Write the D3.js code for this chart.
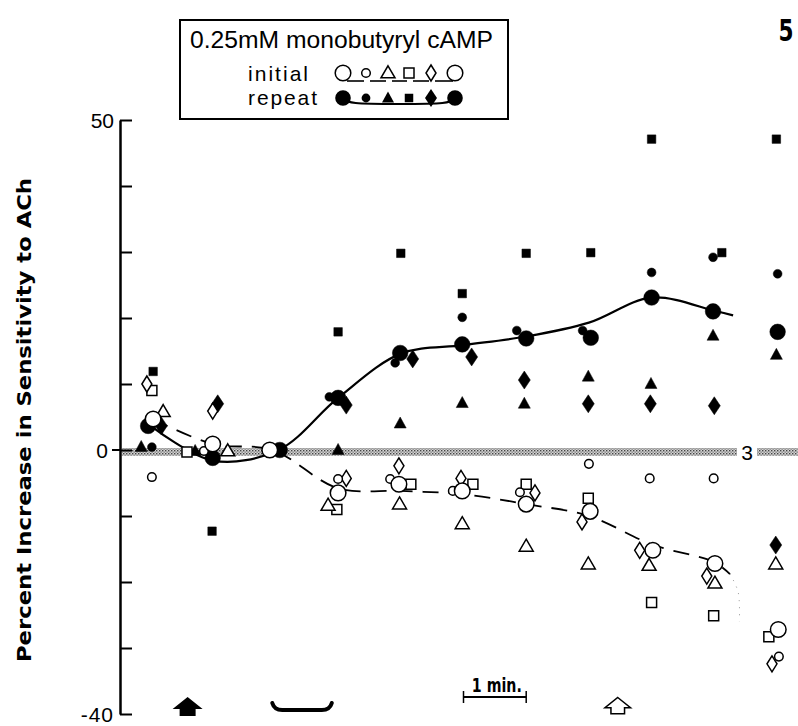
<!DOCTYPE html>
<html>
<head>
<meta charset="utf-8">
<script src="https://cdn.jsdelivr.net/npm/d3@7"></script>
<style>
  body { margin: 0; background: #fff; }
  svg { display: block; }
</style>
</head>
<body>
<svg width="798" height="726"></svg>
<script>
// time in minutes (one column per minute), value in percent
const initialMean = [[0.05,4.7],[1.0,0.9],[1.91,0],[3.0,-6.5],[3.97,-5.2],[4.98,-6.2],[6.0,-8.2],[7.02,-9.3],[8.02,-15.2],[9.01,-17.2],[10.02,-27.2]];
const initialSmallCircle = [[0.03,-4.1],[0.86,-0.15],[3.0,-4.4],[3.83,-4.4],[4.83,-6.2],[5.9,-6.4],[7.0,-2.1],[7.97,-4.3],[8.99,-4.3],[10.03,-31.3]];
const initialTriangle = [[0.21,5.8],[1.24,-0.15],[2.84,-8.4],[3.98,-8.2],[4.98,-11.2],[6.0,-14.6],[6.99,-17.3],[7.96,-17.5],[9.01,-20.2],[9.98,-17.3]];
const initialSquare = [[0.03,9.0],[0.59,-0.3],[2.98,-9.0],[4.16,-5.2],[5.15,-5.2],[6.0,-5.2],[6.99,-7.3],[8.0,-23.1],[8.99,-25.1],[9.87,-28.3]];
const initialDiamond = [[-0.05,10.0],[1.0,5.9],[3.13,-4.3],[3.97,-2.4],[4.96,-4.3],[6.14,-6.5],[6.89,-10.9],[7.81,-15.2],[8.88,-19.1],[9.92,-32.4]];

const repeatMean = [[-0.03,3.65],[1.0,-1.2],[2.07,0],[3.0,7.9],[3.99,14.7],[4.98,16.0],[6.0,16.9],[7.03,17.0],[8.0,23.1],[8.98,21.0],[10.01,17.9]];
const repeatSmallCircle = [[0.03,0.45],[2.86,8.05],[3.91,13.2],[4.98,20.1],[5.85,18.1],[6.9,18.1],[8.0,26.9],[8.98,29.2],[10.01,26.7]];
const repeatTriangle = [[-0.14,0.45],[0.72,-0.15],[3.0,0],[3.99,4.0],[4.98,7.1],[5.97,7.0],[6.99,11.1],[7.99,10.0],[8.98,17.3],[9.99,14.4]];
const repeatSquare = [[0.05,11.9],[0.99,-12.3],[3.0,17.9],[4.0,29.8],[4.98,23.7],[6.0,29.8],[7.03,29.9],[8.0,47.1],[9.12,29.9],[9.99,47.1]];
const repeatDiamond = [[0.18,3.65],[1.08,7.0],[3.13,6.8],[4.19,13.8],[5.13,14.1],[5.97,10.6],[6.99,7.0],[7.98,7.0],[9.0,6.7],[9.98,-14.4]];

// smoothed curves drawn by eye through the means
const initialFit = [[0.05,4.7],[1.0,0.9],[1.95,0],[3.0,-5.8],[4.0,-6.2],[5.0,-6.7],[6.0,-8.2],[7.0,-10.0],[8.0,-14.3],[9.0,-17.0],[9.25,-18.8]];
const initialFitTail = [[9.25,-18.8],[9.38,-21.5],[9.4,-26.0]];
const repeatFit = [[0.05,3.4],[1.0,-1.6],[2.05,0],[3.0,7.9],[4.0,14.6],[5.0,15.9],[6.0,17.2],[7.0,19.3],[8.0,23.1],[9.0,21.1],[9.3,20.4]];

const yTicks = [-40,-30,-20,-10,0,10,20,30,40,50];
const yLabels = [50, 0, -40];
const controlBand = [-0.9, 0.3];
const drugOn = 0.6, washStart = 1.95, washEnd = 2.9, drugOff = 7.46;
const scaleBar = [5, 6];

const svg = d3.select("svg");
const x = d3.scaleLinear().domain([0, 10]).range([150, 777]);
const y = d3.scaleLinear().domain([-40, 50]).range([714, 120]);

// stipple for the control band
const defs = svg.append("defs");
const pat = defs.append("pattern").attr("id", "stip")
  .attr("width", 3).attr("height", 3).attr("patternUnits", "userSpaceOnUse");
pat.append("rect").attr("width", 3).attr("height", 3).attr("fill", "#d4d4d4");
pat.append("rect").attr("width", 1.4).attr("height", 1.4).attr("fill", "#444");
pat.append("rect").attr("x", 1.5).attr("y", 1.5).attr("width", 1.3).attr("height", 1.3).attr("fill", "#777");

const bandX0 = x.range()[0] - 28, bandX1 = 798;
const gapX0 = 737, gapX1 = 757;
[[bandX0, gapX0], [gapX1, bandX1]].forEach(([a, b]) => {
  svg.append("rect")
    .attr("x", a).attr("width", b - a)
    .attr("y", y(controlBand[1])).attr("height", y(controlBand[0]) - y(controlBand[1]))
    .attr("fill", "url(#stip)");
});
svg.append("text").attr("x", 747).attr("y", y(-0.3) + 8)
  .attr("text-anchor", "middle").attr("font-family", "Liberation Sans, Arial, sans-serif")
  .attr("font-size", 21).text("3");

// y axis
const axis = svg.append("g").attr("transform", `translate(120,0)`)
  .call(d3.axisRight(y).tickValues(yTicks).tickSize(12).tickSizeOuter(0).tickFormat(""));
axis.select(".domain").attr("stroke-width", 2.5);
axis.selectAll(".tick line").attr("stroke-width", 2);
svg.append("line").attr("x1", 112).attr("x2", 120).attr("y1", y(0)).attr("y2", y(0))
  .attr("stroke", "#000").attr("stroke-width", 2);
svg.selectAll(".ylab").data(yLabels).enter().append("text")
  .attr("class", "ylab")
  .attr("x", d => d === 0 ? 108 : 114).attr("y", d => y(d) + 8)
  .attr("text-anchor", "end")
  .attr("font-family", "Liberation Sans, Arial, sans-serif")
  .attr("font-size", 21)
  .attr("letter-spacing", d => d < 0 ? 1 : 0)
  .text(d => d < 0 ? "-" + Math.abs(d) : d);

svg.append("text")
  .attr("transform", `translate(31,${(178 + 662) / 2}) rotate(-90)`)
  .attr("text-anchor", "middle")
  .attr("font-family", "DejaVu Sans Condensed, Liberation Sans Narrow, sans-serif")
  .attr("font-weight", "bold").attr("font-size", 19)
  .attr("textLength", 484).attr("lengthAdjust", "spacingAndGlyphs")
  .text("Percent Increase in Sensitivity to ACh");

// fitted curves
const line = d3.line().x(d => x(d[0])).y(d => y(d[1])).curve(d3.curveCatmullRom.alpha(0.5));
svg.append("path").attr("d", line(repeatFit)).attr("fill", "none")
  .attr("stroke", "#000").attr("stroke-width", 2.2);
svg.append("path").attr("d", line(initialFit)).attr("fill", "none")
  .attr("stroke", "#000").attr("stroke-width", 1.8).attr("stroke-dasharray", "16,10");
svg.append("path").attr("d", line(initialFitTail)).attr("fill", "none")
  .attr("stroke", "#999").attr("stroke-width", 1).attr("stroke-dasharray", "1,6");

// marker shapes
const tri = (w, h) => `M0,${-h * 0.6}L${w / 2},${h * 0.4}L${-w / 2},${h * 0.4}Z`;
const sq = s => `M${-s / 2},${-s / 2}h${s}v${s}h${-s}Z`;
const dia = (w, h) => `M0,${-h / 2}L${w / 2},0L0,${h / 2}L${-w / 2},0Z`;
const circ = r => `M${r},0A${r},${r} 0 1,1 ${-r},0A${r},${r} 0 1,1 ${r},0Z`;

const shapes = {
  bigCircle: circ(7.8), smallCircle: circ(4.3), smallDot: circ(4.4),
  triangle: tri(14, 12), triFilled: tri(12, 11),
  square: sq(10), sqFilled: sq(8.5),
  diamond: dia(10, 16), diaFilled: dia(12, 18)
};

function plot(data, shape, filled) {
  svg.append("g").selectAll("path").data(data).enter().append("path")
    .attr("transform", d => `translate(${x(d[0])},${y(d[1])})`)
    .attr("d", shapes[shape])
    .attr("fill", filled ? "#000" : "#fff")
    .attr("stroke", "#000")
    .attr("stroke-width", filled ? 0.5 : 1.5);
}

plot(repeatSquare, "sqFilled", true);
plot(repeatTriangle, "triFilled", true);
plot(repeatDiamond, "diaFilled", true);
plot(repeatSmallCircle, "smallDot", true);
plot(repeatMean, "bigCircle", true);
plot(initialSquare, "square", false);
plot(initialTriangle, "triangle", false);
plot(initialDiamond, "diamond", false);
plot(initialSmallCircle, "smallCircle", false);
plot(initialMean, "bigCircle", false);

// legend
const lg = svg.append("g");
lg.append("rect").attr("x", 180).attr("y", 20).attr("width", 328).attr("height", 99)
  .attr("fill", "#fff").attr("stroke", "#000").attr("stroke-width", 2);
const legFont = "Liberation Sans, Arial, sans-serif";
lg.append("text").attr("x", 190).attr("y", 48)
  .attr("font-family", legFont).attr("font-size", 23)
  .attr("textLength", 303).attr("lengthAdjust", "spacingAndGlyphs")
  .text("0.25mM monobutyryl cAMP");
lg.append("text").attr("x", 248).attr("y", 81)
  .attr("font-family", legFont).attr("font-size", 21)
  .attr("textLength", 60).attr("lengthAdjust", "spacing").text("initial");
lg.append("text").attr("x", 248).attr("y", 105)
  .attr("font-family", legFont).attr("font-size", 21)
  .attr("textLength", 69).attr("lengthAdjust", "spacing").text("repeat");

const legX = [343, 366, 388, 409, 431, 455];
const legInit = ["bigCircle", "smallCircle", "triangle", "square", "diamond", "bigCircle"];
const legRep = ["bigCircle", "smallDot", "triFilled", "sqFilled", "diaFilled", "bigCircle"];
// dashes under the initial row
legX.slice(0, -1).forEach((lx, i) => {
  lg.append("line").attr("x1", lx + 4).attr("x2", legX[i + 1] - 2)
    .attr("y1", 81).attr("y2", 81).attr("stroke", "#000").attr("stroke-width", 1.6);
});
lg.append("path")
  .attr("d", d3.line().curve(d3.curveBasis)([[343, 98], [348, 104], [399, 104], [450, 104], [455, 98]]))
  .attr("fill", "none").attr("stroke", "#000").attr("stroke-width", 2);
legInit.forEach((s, i) => lg.append("path").attr("transform", `translate(${legX[i]},73)`)
  .attr("d", shapes[s]).attr("fill", "#fff").attr("stroke", "#000").attr("stroke-width", 1.5));
legRep.forEach((s, i) => lg.append("path").attr("transform", `translate(${legX[i]},98)`)
  .attr("d", shapes[s]).attr("fill", "#000"));

// figure number
svg.append("text").attr("x", 786).attr("y", 41).attr("text-anchor", "middle")
  .attr("font-family", "DejaVu Sans Condensed, Liberation Sans Narrow, sans-serif")
  .attr("font-weight", "bold").attr("font-size", 30)
  .attr("transform", "translate(786,0) scale(0.8,1) translate(-786,0)")
  .text("5");

// bottom: drug application markers and time scale
const arrow = "M0,-10L15,2L8,2L8,9L-8,9L-8,2L-15,2Z";
svg.append("path").attr("transform", `translate(${x(drugOn)},${707})`)
  .attr("d", arrow).attr("fill", "#000");
svg.append("path").attr("transform", `translate(${x(drugOff)},${706}) scale(0.85)`)
  .attr("d", arrow).attr("fill", "#fff")
  .attr("stroke", "#000").attr("stroke-width", 1.8);
const w0 = x(washStart), w1 = x(washEnd);
svg.append("path")
  .attr("d", `M${w0},703Q${w0 + 2},710 ${w0 + 10},710L${w1 - 10},710Q${w1 - 2},710 ${w1},703`)
  .attr("fill", "none").attr("stroke", "#000").attr("stroke-width", 4).attr("stroke-linecap", "round");

const s0 = x(scaleBar[0]), s1 = x(scaleBar[1]);
svg.append("line").attr("x1", s0).attr("x2", s1).attr("y1", 697).attr("y2", 697)
  .attr("stroke", "#000").attr("stroke-width", 1.8);
[s0, s1].forEach(sx => svg.append("line").attr("x1", sx).attr("x2", sx)
  .attr("y1", 691).attr("y2", 703).attr("stroke", "#000").attr("stroke-width", 1.5));
svg.append("text").attr("x", (s0 + s1) / 2 + 2).attr("y", 692).attr("text-anchor", "middle")
  .attr("font-family", "DejaVu Sans Condensed, Liberation Sans Narrow, sans-serif")
  .attr("font-weight", "bold").attr("font-size", 20)
  .attr("textLength", 50).attr("lengthAdjust", "spacingAndGlyphs")
  .text("1 min.");
</script>
</body>
</html>
